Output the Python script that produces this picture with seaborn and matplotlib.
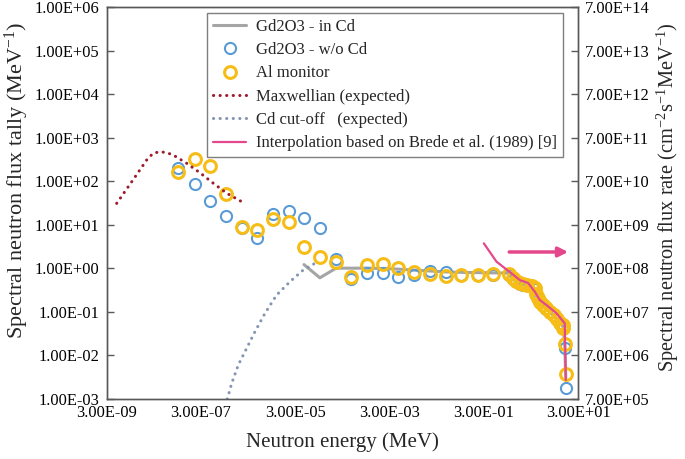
import matplotlib
matplotlib.use("Agg")
import matplotlib.pyplot as plt
import seaborn as sns
import numpy as np
import pandas as pd
from matplotlib.ticker import FixedLocator, FuncFormatter, NullLocator

# estilo general
sns.set_style("white")
plt.rcParams["font.family"] = ["Liberation Serif", "DejaVu Serif"]
plt.rcParams["mathtext.fontset"] = "custom"
plt.rcParams["mathtext.rm"] = "Liberation Serif"
plt.rcParams["mathtext.it"] = "Liberation Serif:italic"

# datos (energia en MeV)
bins_E = [1.0e-7, 2.2e-7, 4.6e-7, 1.0e-6, 2.2e-6, 4.6e-6, 1.0e-5, 2.2e-5, 4.6e-5,
          1.0e-4, 2.2e-4, 4.6e-4, 1.0e-3, 2.2e-3, 4.6e-3, 1.0e-2, 2.2e-2, 4.6e-2,
          1.0e-1, 2.2e-1, 4.6e-1, 1.0]
fast_E = [1.25, 1.47, 1.73, 2.03, 2.47, 3.06, 3.59, 3.77, 4.22, 4.74, 5.38, 6.35,
          7.46, 9.08, 10.7, 12.2, 13.9, 14.3, 15.5, 16.3]

al_low = [161, 321, 224, 50, 8.7, 7.5, 13.3, 11.4, 3.1, 1.77, 1.36, 0.635,
          1.18, 1.24, 0.99, 0.80, 0.72, 0.66, 0.695, 0.695, 0.72, 0.72]
al_fast = [0.583, 0.506, 0.448, 0.425, 0.409, 0.394, 0.344, 0.250, 0.202, 0.169,
           0.142, 0.119, 0.099, 0.083, 0.067, 0.054, 0.049, 0.0426, 0.0177, 0.00376]

gd_low = [199, 85, 35, 16, 8.5, 4.9, 17.6, 20.7, 14.5, 8.3, 1.62, 0.56,
          0.785, 0.785, 0.635, 0.695, 0.86, 0.83, 0.68, 0.68, 0.70, 0.70]
gd_fast = [0.57, 0.50, 0.44, 0.42, 0.40, 0.39, 0.34, 0.245, 0.20, 0.166,
           0.140, 0.117, 0.097, 0.081, 0.066, 0.053, 0.048, 0.041, 0.0143, 0.00171]

incd_E = [4.6e-5, 1.0e-4, 2.2e-4, 4.6e-4, 1.0e-3, 2.2e-3, 4.6e-3, 1.0e-2, 2.2e-2,
          4.6e-2, 1.0e-1, 2.2e-1, 4.6e-1, 1.0]
incd_low = [1.21, 0.60, 1.0, 1.0, 1.0, 0.98, 0.95, 0.90, 0.86, 0.82, 0.80, 0.79, 0.78, 0.77]
incd_fast = [0.58, 0.50, 0.445, 0.42, 0.405, 0.39, 0.34, 0.248, 0.20, 0.168,
             0.141, 0.118, 0.098, 0.082, 0.066, 0.053, 0.048, 0.042, 0.0170, 0.0030]

maxw_E = [4.93e-9, 1.03e-8, 2.13e-8, 2.90e-8, 4.07e-8, 5.65e-8, 7.80e-8,
          1.50e-7, 2.87e-7, 5.50e-7, 1.06e-6, 2.19e-6]
maxw_y = [31, 98, 308, 440, 479, 455, 402, 259, 157, 90, 53, 34]

cdcut_E = [1.09e-6, 1.35e-6, 1.86e-6, 2.80e-6, 4.20e-6, 6.84e-6, 1.21e-5,
           2.32e-5, 4.43e-5, 7.83e-5]
cdcut_y = [0.00097, 0.00223, 0.00589, 0.0143, 0.0344, 0.0912, 0.241, 0.488, 0.906, 1.29]

# interpolacion (eje derecho, cm-2 s-1 MeV-1)
brede_E = [0.299, 0.555, 1.15, 1.73, 2.59, 3.59, 4.58, 6.35, 10.35, 15.5, 16.3]
brede_y = [2.61e9, 9.87e8, 5.32e8, 3.73e8, 3.19e8, 2.01e8, 1.30e8, 9.9e7, 6.4e7, 3.76e7, 1.86e6]

xticks = [3e-9, 3e-7, 3e-5, 3e-3, 3e-1, 3e1]
yticks_l = [1e-3, 1e-2, 1e-1, 1e0, 1e1, 1e2, 1e3, 1e4, 1e5, 1e6]
yticks_r = [7e5, 7e6, 7e7, 7e8, 7e9, 7e10, 7e11, 7e12, 7e13, 7e14]

c_gray = "#a5a5a5"
c_blue = "#5b9bd5"
c_gold = "#f6bd16"
c_red = "#9e1b2c"
c_cd = "#8496b0"
c_pink = "#e4478b"

df_al = pd.DataFrame({"E": bins_E + fast_E, "v": al_low + al_fast})
df_gd = pd.DataFrame({"E": bins_E + fast_E, "v": gd_low + gd_fast})
df_incd = pd.DataFrame({"E": incd_E + fast_E, "v": incd_low + incd_fast})
df_max = pd.DataFrame({"E": maxw_E, "v": maxw_y})
df_cd = pd.DataFrame({"E": cdcut_E, "v": cdcut_y})
df_br = pd.DataFrame({"E": brede_E, "v": brede_y})

fig, ax = plt.subplots(figsize=(6.85, 4.59), dpi=100)
fig.subplots_adjust(left=0.1555, right=0.8442, bottom=0.1318, top=0.9837)
ax.set_xscale("log")
ax.set_yscale("log")

dots = (0, (0.05, 2.1))

sns.lineplot(data=df_incd, x="E", y="v", ax=ax, color=c_gray, lw=2.2,
             sort=False, estimator=None, label="Gd2O3 - in Cd")
sns.lineplot(data=df_gd, x="E", y="v", ax=ax, color=c_blue, lw=0, marker="o",
             markersize=8, markerfacecolor="none", markeredgecolor=c_blue,
             markeredgewidth=1.5, sort=False, estimator=None, label="Gd2O3 - w/o Cd")
sns.lineplot(data=df_al, x="E", y="v", ax=ax, color=c_gold, lw=0, marker="o",
             markersize=8.5, markerfacecolor="none", markeredgecolor=c_gold,
             markeredgewidth=2.2, sort=False, estimator=None, label="Al monitor")
ln_max = sns.lineplot(data=df_max, x="E", y="v", ax=ax, color=c_red, lw=2.2,
                      sort=False, estimator=None, label="Maxwellian (expected)").lines[-1]
ln_cd = sns.lineplot(data=df_cd, x="E", y="v", ax=ax, color=c_cd, lw=2.2,
                     sort=False, estimator=None, label="Cd cut-off   (expected)").lines[-1]
for ln in (ln_max, ln_cd):
    ln.set_linestyle(dots)
    ln.set_dash_capstyle("round")

ax2 = ax.twinx()
ax2.set_yscale("log")
sns.lineplot(data=df_br, x="E", y="v", ax=ax2, color=c_pink, lw=1.6,
             sort=False, estimator=None,
             label="Interpolation based on Brede et al. (1989) [9]")
ax2.annotate("", xy=(21, 1.65e9), xytext=(0.90, 1.65e9),
             arrowprops=dict(arrowstyle="-|>", color=c_pink, lw=2.5, mutation_scale=14))

ax.set_xlim(3e-9, 3e1)
ax.set_ylim(1e-3, 1e6)
ax2.set_ylim(7e5, 7e14)

sci = FuncFormatter(lambda v, p: f"{v:.2E}")
ax.xaxis.set_major_locator(FixedLocator(xticks))
ax.yaxis.set_major_locator(FixedLocator(yticks_l))
ax2.yaxis.set_major_locator(FixedLocator(yticks_r))
for a in (ax.xaxis, ax.yaxis, ax2.yaxis):
    a.set_minor_locator(NullLocator())
    a.set_major_formatter(sci)

tick_kw = dict(direction="in", length=5, width=1, color="#595959", labelsize=11.8,
               labelcolor="black", pad=5)
ax.tick_params(axis="both", **tick_kw)
ax2.tick_params(axis="y", **tick_kw)
for a in (ax, ax2):
    for s in a.spines.values():
        s.set_color("#595959")
        s.set_linewidth(1)

ax.set_xlabel("Neutron energy (MeV)", fontsize=15, labelpad=8)
ax.set_ylabel("Spectral neutron flux tally (MeV$^{-1}$)", fontsize=16)
ax2.set_ylabel("Spectral neutron flux rate (cm$^{-2}$s$^{-1}$MeV$^{-1}$)", fontsize=14.7)
ax.yaxis.set_label_coords(-0.16, 0.558)
ax2.yaxis.set_label_coords(1.163, 0.515)

h1, l1 = ax.get_legend_handles_labels()
h2, l2 = ax2.get_legend_handles_labels()
if ax.get_legend() is not None:
    ax.get_legend().remove()
leg = ax2.legend(h1 + h2, l1 + l2, loc="upper left", bbox_to_anchor=(0.213, 0.986),
                 fontsize=12, frameon=True, fancybox=False, edgecolor="#7f7f7f",
                 framealpha=1, handlelength=2.0, labelspacing=0.44, borderpad=0.35,
                 handletextpad=0.6, borderaxespad=0)
leg.get_frame().set_linewidth(1)

plt.savefig("out.png", dpi=100)
